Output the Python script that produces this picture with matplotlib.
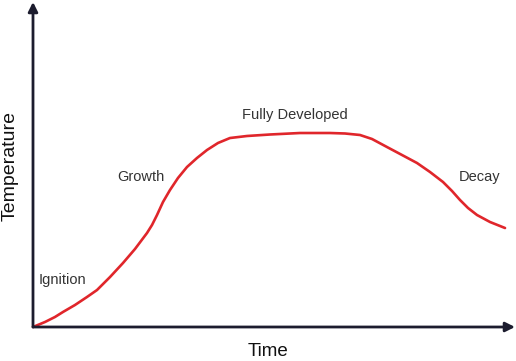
import matplotlib
matplotlib.use('Agg')
import matplotlib.pyplot as plt

# curve, axes run 0..100 in both directions
time = [0, 2.49, 4.56, 6.22, 8.71, 11.20, 13.28, 15.98, 18.67, 21.16, 23.65,
        24.69, 25.73, 26.97, 28.42, 30.08, 31.95, 34.02, 36.10, 38.38, 40.87,
        44.40, 49.17, 55.39, 61.62, 64.73, 67.84, 70.33, 73.44, 76.56, 79.67,
        82.37, 85.06, 86.93, 88.59, 90.25, 92.12, 94.81, 97.93]
temperature = [0, 1.54, 3.08, 4.62, 6.77, 9.23, 11.38, 15.38, 19.69, 24.0, 28.92,
               31.38, 34.46, 38.46, 42.15, 45.85, 49.23, 52.0, 54.46, 56.62, 58.15,
               58.77, 59.23, 59.69, 59.69, 59.54, 59.08, 57.85, 55.38, 52.92, 50.46,
               47.69, 44.62, 41.85, 39.08, 36.62, 34.46, 32.31, 30.46]

stage_names = ["Ignition", "Growth", "Fully Developed", "Decay"]
stage_x = [6.2, 22.4, 54.4, 92.7]
stage_y = [14.5, 46.2, 65.2, 46.2]

plt.rcParams['font.family'] = ['Liberation Sans', 'DejaVu Sans']

W, H = 516, 361
fig = plt.figure(figsize=(W / 100, H / 100), dpi=100)
ax = fig.add_axes([33 / W, (H - 327) / H, (515 - 33) / W, (327 - 2) / H])
ax.set_xlim(0, 100)
ax.set_ylim(0, 100)
ax.axis('off')

axis_col = '#1c1c2e'
arrow = dict(arrowstyle='-|>', lw=2.0, color=axis_col, mutation_scale=14, shrinkA=0, shrinkB=0)
ax.annotate('', xy=(100, 0), xytext=(0, 0), arrowprops=arrow, annotation_clip=False)
ax.annotate('', xy=(0, 100), xytext=(0, 0), arrowprops=arrow, annotation_clip=False)

ax.plot(time, temperature, color='#e0262b', lw=1.9, solid_joinstyle='round',
        solid_capstyle='round', clip_on=False)

for name, x, y in zip(stage_names, stage_x, stage_y):
    ax.text(x, y, name, ha='center', va='center', fontsize=10.5, color='#333333')

fig.text(10 / W, 1 - 166 / H, "Temperature", rotation=90, ha='center', va='center',
         fontsize=14, color='#111111')
fig.text(268 / W, 1 - 352 / H, "Time", ha='center', va='center', fontsize=13.5,
         color='#111111')

fig.savefig('out.png', dpi=100)
